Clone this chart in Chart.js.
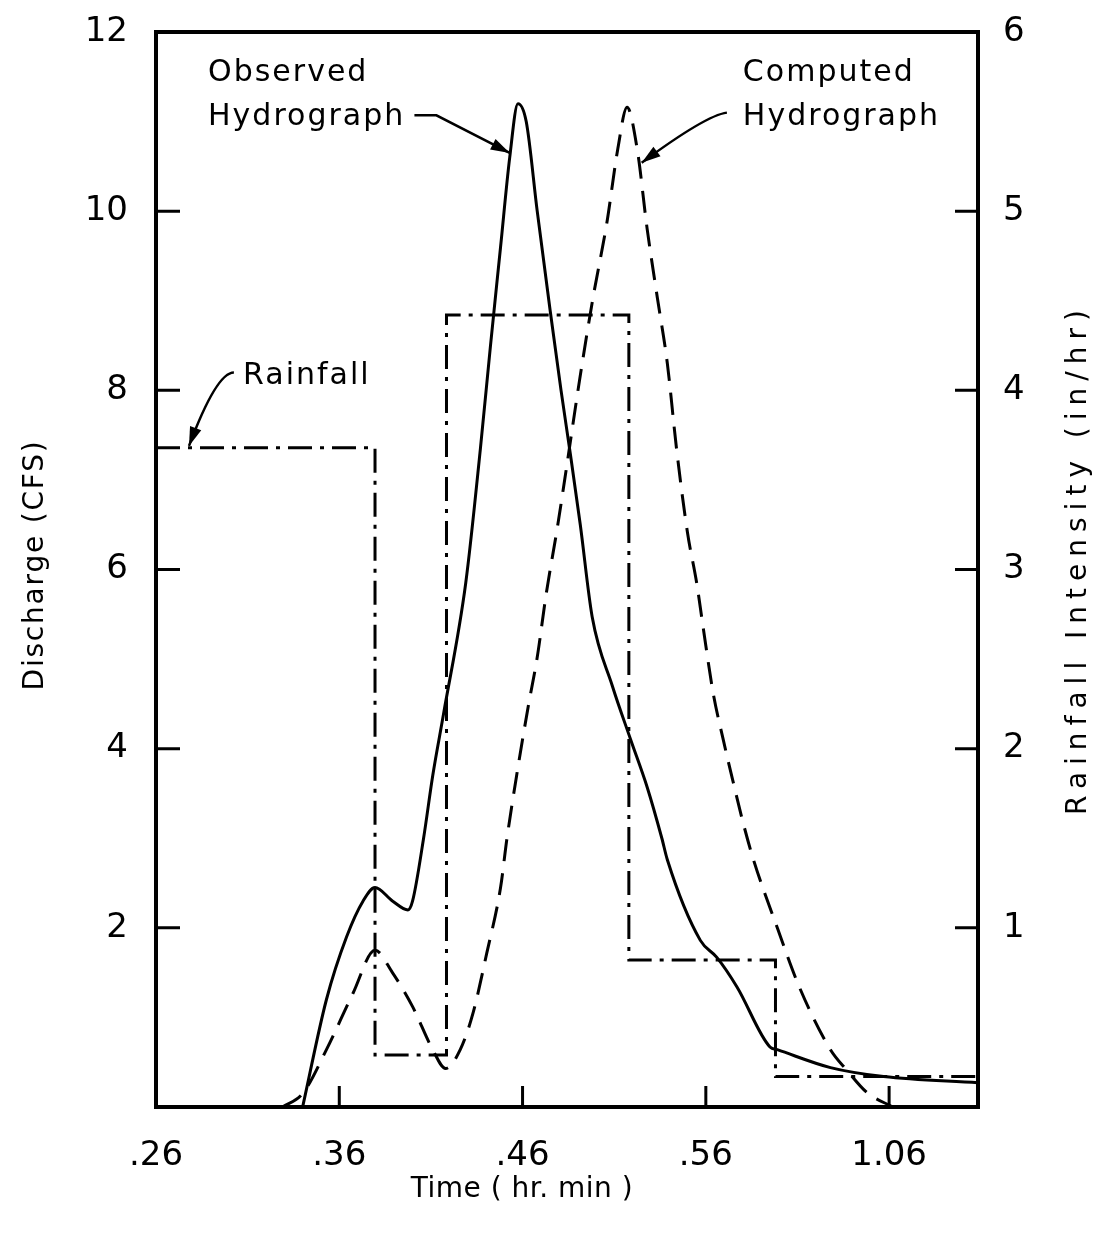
<!DOCTYPE html>
<html>
<head>
<meta charset="utf-8">
<title>Observed and Computed Hydrograph</title>
<script src="https://cdn.jsdelivr.net/npm/chart.js@4.4.1/dist/chart.umd.min.js"></script>
<style>
    html, body { margin: 0; padding: 0; background: #fff; }
    #chart { display: block; }
</style>
</head>
<body>
<canvas id="chart" width="1097" height="1233"></canvas>
<script>
// time in minutes after the hour, tick labels written as hr.min
const timeTicks = [26, 36, 46, 56, 66];
const timeTickLabels = ['.26', '.36', '.46', '.56', '1.06'];
const dischargeTicks = [2, 4, 6, 8, 10, 12];
const intensityTicks = [1, 2, 3, 4, 5, 6];

// Observed hydrograph (CFS)
const observedTime = [34.0, 35.3, 36.4, 37.3, 37.95, 38.9, 39.75, 40.0, 40.6, 41.1, 41.7, 42.9, 43.7,
    44.25, 44.8, 45.3, 45.75, 46.2, 46.8, 47.5, 48.1, 48.6, 49.15, 49.8, 50.9, 51.9, 52.8, 53.6, 53.9,
    55.7, 56.6, 57.7, 59.5, 59.9, 62.8, 65.7, 70.85];
const observedFlow = [0.0, 1.2, 1.9, 2.3, 2.45, 2.3, 2.2, 2.3, 3.0, 3.7, 4.4, 5.85, 7.35,
    8.5, 9.6, 10.6, 11.2, 11.0, 10.0, 8.9, 8.0, 7.3, 6.5, 5.47, 4.7, 4.1, 3.57, 3.0, 2.76,
    1.86, 1.67, 1.34, 0.67, 0.64, 0.44, 0.34, 0.27];

// Computed hydrograph (CFS)
const computedTime = [32.9, 34.0, 35.3, 36.75, 37.95, 38.9, 40.0, 41.1, 41.8, 42.6, 43.3, 44.05, 44.8, 45.15,
    45.7, 46.3, 46.8, 47.3, 47.9, 48.4, 49.1, 49.85, 50.6, 51.2, 51.7, 52.25, 52.8, 53.35, 53.9,
    54.4, 55.0, 55.5, 55.85, 56.4, 56.95, 57.5, 58.0, 58.6, 59.9, 61.1, 62.8, 63.7, 64.8, 66.2];
const computedFlow = [0.0, 0.15, 0.64, 1.27, 1.75, 1.5, 1.12, 0.64, 0.43, 0.64, 1.05, 1.72, 2.45, 3.0,
    3.73, 4.46, 5.02, 5.74, 6.47, 7.14, 8.1, 9.04, 9.87, 10.7, 11.16, 10.7, 9.8, 9.04, 8.3,
    7.35, 6.41, 5.85, 5.36, 4.62, 4.1, 3.62, 3.2, 2.76, 2.0, 1.34, 0.64, 0.41, 0.16, 0.0];

// Rainfall intensity (in/hr), each value holds until the next time
const rainTime = [26, 37.95, 41.85, 51.8, 59.8, 70.85];
const rainIntensity = [3.68, 0.29, 4.42, 0.82, 0.17, 0.17];

const FONT = "'DejaVu Sans', 'Liberation Sans', sans-serif";

function toPoints(xs, ys) {
    return xs.map((x, i) => ({ x: x, y: ys[i] }));
}

// labels and leader lines, in data units (x = minutes, y = CFS)
const notes = [
    { text: 'Observed', x: 28.84, y: 11.54 },
    { text: 'Hydrograph', x: 28.84, y: 11.05 },
    { text: 'Computed', x: 58.02, y: 11.54 },
    { text: 'Hydrograph', x: 58.02, y: 11.05 },
    { text: 'Rainfall', x: 30.75, y: 8.16 }
];
const leaders = [
    { curved: false, pts: [[40.1, 11.07], [41.3, 11.07], [45.3, 10.65]] },
    { curved: true, pts: [[57.15, 11.1], [56.0, 11.07], [52.5, 10.54]] },
    { curved: true, pts: [[30.25, 8.2], [29.3, 8.2], [27.8, 7.38]] }
];

const framePlugin = {
    id: 'frame',
    afterDraw(chart) {
        const ctx = chart.ctx;
        const area = chart.chartArea;
        const xs = chart.scales.x, ys = chart.scales.y, y2 = chart.scales.y2;
        ctx.save();
        ctx.strokeStyle = '#000';
        ctx.lineCap = 'butt';

        // heavy frame
        ctx.lineWidth = 4;
        ctx.strokeRect(area.left, area.top, area.right - area.left, area.bottom - area.top);

        // inward tick marks
        ctx.lineWidth = 3;
        ctx.beginPath();
        dischargeTicks.slice(0, -1).forEach(v => {
            const p = ys.getPixelForValue(v);
            ctx.moveTo(area.left, p);
            ctx.lineTo(area.left + 24, p);
        });
        intensityTicks.slice(0, -1).forEach(v => {
            const p = y2.getPixelForValue(v);
            ctx.moveTo(area.right, p);
            ctx.lineTo(area.right - 23, p);
        });
        timeTicks.slice(1).forEach(v => {
            const p = xs.getPixelForValue(v);
            ctx.moveTo(p, area.bottom);
            ctx.lineTo(p, area.bottom - 21);
        });
        ctx.stroke();

        // leader lines with arrow heads
        ctx.lineWidth = 2.5;
        ctx.fillStyle = '#000';
        leaders.forEach(l => {
            const px = l.pts.map(p => [xs.getPixelForValue(p[0]), ys.getPixelForValue(p[1])]);
            ctx.beginPath();
            ctx.moveTo(px[0][0], px[0][1]);
            if (l.curved) {
                ctx.quadraticCurveTo(px[1][0], px[1][1], px[2][0], px[2][1]);
            } else {
                ctx.lineTo(px[1][0], px[1][1]);
                ctx.lineTo(px[2][0], px[2][1]);
            }
            ctx.stroke();
            const a = Math.atan2(px[2][1] - px[1][1], px[2][0] - px[1][0]);
            const tip = px[2];
            ctx.beginPath();
            ctx.moveTo(tip[0], tip[1]);
            ctx.lineTo(tip[0] - 19 * Math.cos(a) + 6 * Math.sin(a), tip[1] - 19 * Math.sin(a) - 6 * Math.cos(a));
            ctx.lineTo(tip[0] - 19 * Math.cos(a) - 6 * Math.sin(a), tip[1] - 19 * Math.sin(a) + 6 * Math.cos(a));
            ctx.closePath();
            ctx.fill();
        });

        // note labels
        ctx.font = '30px ' + FONT;
        ctx.letterSpacing = '2px';
        ctx.textAlign = 'left';
        ctx.textBaseline = 'middle';
        notes.forEach(n => {
            ctx.fillText(n.text, xs.getPixelForValue(n.x), ys.getPixelForValue(n.y));
        });

        // axis titles
        ctx.font = '28px ' + FONT;
        ctx.textAlign = 'center';
        ctx.letterSpacing = '0.5px';
        ctx.fillText('Time ( hr. min )', 522, 1190);

        ctx.save();
        ctx.translate(36, 565);
        ctx.rotate(-Math.PI / 2);
        ctx.letterSpacing = '1.8px';
        ctx.fillText('Discharge (CFS)', 0, 0);
        ctx.restore();

        ctx.save();
        ctx.translate(1079, 559);
        ctx.rotate(-Math.PI / 2);
        ctx.letterSpacing = '7px';
        ctx.fillText('Rainfall Intensity (in/hr)', 0, 0);
        ctx.restore();

        ctx.restore();
    }
};

const tickFont = { family: FONT, size: 34 };

// fixed axis sizes so the plot box sits where the original frame is
function fitY(width) {
    return scale => {
        scale.width = width;
        scale.paddingTop = 0;
        scale.paddingBottom = 0;
    };
}

new Chart(document.getElementById('chart'), {
    type: 'line',
    data: {
        datasets: [{
            label: 'Observed Hydrograph',
            data: toPoints(observedTime, observedFlow),
            borderColor: '#000',
            borderWidth: 3,
            pointRadius: 0,
            cubicInterpolationMode: 'monotone',
            yAxisID: 'y'
        }, {
            label: 'Computed Hydrograph',
            data: toPoints(computedTime, computedFlow),
            borderColor: '#000',
            borderWidth: 3,
            borderDash: [22, 12],
            pointRadius: 0,
            cubicInterpolationMode: 'monotone',
            yAxisID: 'y'
        }, {
            label: 'Rainfall',
            data: toPoints(rainTime, rainIntensity),
            borderColor: '#000',
            borderWidth: 3,
            borderDash: [24, 8, 4, 8],
            pointRadius: 0,
            stepped: true,
            yAxisID: 'y2'
        }]
    },
    options: {
        responsive: false,
        animation: false,
        devicePixelRatio: 1,
        layout: { padding: { top: 32, left: 0, right: 0, bottom: 0 } },
        plugins: {
            legend: { display: false },
            tooltip: { enabled: false }
        },
        scales: {
            x: {
                type: 'linear',
                min: 26,
                max: 70.85,
                afterBuildTicks: scale => { scale.ticks = timeTicks.map(v => ({ value: v })); },
                afterFit: scale => {
                    scale.height = 126;
                    scale.paddingLeft = 0;
                    scale.paddingRight = 0;
                },
                grid: { display: false, drawTicks: false },
                border: { display: false },
                ticks: {
                    color: '#000',
                    font: tickFont,
                    padding: 29,
                    maxRotation: 0,
                    autoSkip: false,
                    callback: v => timeTickLabels[timeTicks.indexOf(v)]
                }
            },
            y: {
                position: 'left',
                min: 0,
                max: 12,
                afterBuildTicks: scale => { scale.ticks = dischargeTicks.map(v => ({ value: v })); },
                afterFit: fitY(156),
                grid: { display: false, drawTicks: false },
                border: { display: false },
                ticks: { color: '#000', font: tickFont, padding: 28 }
            },
            y2: {
                position: 'right',
                min: 0,
                max: 6,
                afterBuildTicks: scale => { scale.ticks = intensityTicks.map(v => ({ value: v })); },
                afterFit: fitY(119),
                grid: { display: false, drawTicks: false },
                border: { display: false },
                ticks: { color: '#000', font: tickFont, padding: 25 }
            }
        }
    },
    plugins: [framePlugin]
});
</script>
</body>
</html>
